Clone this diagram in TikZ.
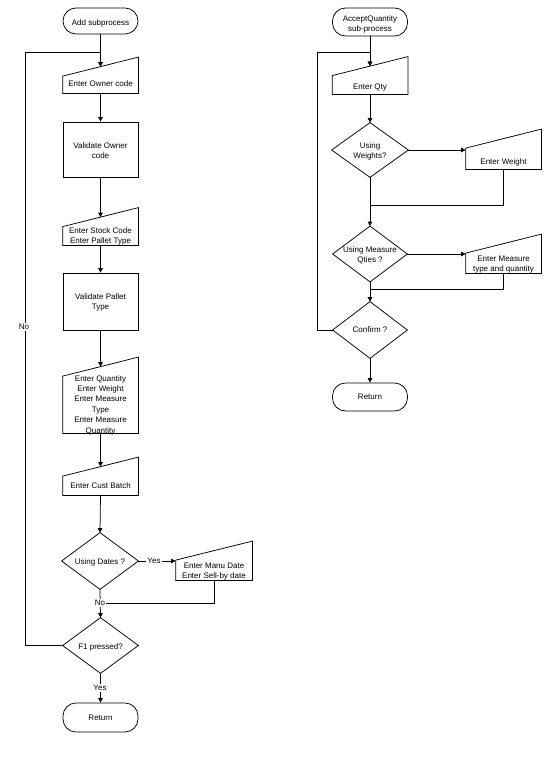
\documentclass[tikz,border=0pt]{standalone}
\usepackage{fontspec}
\setmainfont{Liberation Sans}
\usetikzlibrary{arrows.meta,calc}
\newcommand\mandraw[1]{\draw ([yshift=-9.5pt]#1.north west) -- ([yshift=9.5pt]#1.north east) -- (#1.south east) -- (#1.south west) -- cycle;}
\newcommand\diadraw[1]{\draw (#1.north) -- (#1.east) -- (#1.south) -- (#1.west) -- cycle;}
\newcommand\lowtext[2][3pt]{\raisebox{-#1}[\height][\depth]{\begin{tabular}{@{}c@{}}#2\end{tabular}}}
\begin{document}
\begin{tikzpicture}[x=1pt,y=-1pt, line width=0.75pt,
 base/.style={font=\fontsize{8}{10.4}\selectfont, align=center, inner sep=0pt},
 term/.style={base, draw, rounded corners=13pt, minimum width=75pt},
 proc/.style={base, draw, minimum width=75pt},
 shapebox/.style={base, minimum width=75pt},
 arr/.style={-{Triangle[length=4.5pt,width=4.5pt]}},
 lbl/.style={base, fill=white, inner sep=1pt}]
\useasboundingbox (0,0) rectangle (553,776);

% ---- left column ----
\node[term, minimum height=26pt] (add) at (100.5,21) {\lowtext[2pt]{Add subprocess}};
\node[shapebox, minimum height=26pt] (own) at (100.5,80) {\lowtext[4pt]{Enter Owner code}};
\node[proc, minimum height=55pt] (vown) at (100.5,149.5) {\lowtext[2pt]{Validate Owner\\code}};
\node[shapebox, minimum height=27.5pt] (stk) at (100.5,231.25) {\lowtext[5pt]{Enter Stock Code\\Enter Pallet Type}};
\node[proc, minimum height=57pt] (vpal) at (100.5,301.5) {\lowtext[1pt]{Validate Pallet\\Type}};
\node[shapebox, minimum height=66pt] (eqty) at (100.5,400) {\lowtext[5pt]{Enter Quantity\\Enter Weight\\Enter Measure\\Type\\Enter Measure\\Quantity}};
\node[shapebox, minimum height=28pt] (cust) at (100.5,481) {\lowtext[5pt]{Enter Cust Batch}};
\node[shapebox, minimum width=76pt, minimum height=56pt] (dates) at (100,561) {\lowtext[1pt]{Using Dates ?}};
\node[shapebox, minimum width=76pt, minimum height=29pt] (manu) at (214,565.5) {\lowtext[6pt]{Enter Manu Date\\Enter Sell-by date}};
\coordinate (j3) at (100,603);
\node[shapebox, minimum height=55pt] (f1) at (100.5,645.5) {\lowtext[2pt]{F1 pressed?}};
\node[term, minimum height=29pt] (ret1) at (100.5,717.5) {Return};
\coordinate (topL) at (25,52);

\mandraw{own}
\mandraw{stk}
\mandraw{eqty}
\mandraw{cust}
\mandraw{manu}
\diadraw{dates}
\diadraw{f1}

\draw[arr] (add.south) -- (own.north);
\draw[arr] (f1.west) -| (topL) -- (own.north |- topL) -- (own.north);
\draw[arr] (own.south) -- (vown.north);
\draw[arr] (vown.south) -- (stk.north);
\draw[arr] (stk.south) -- (vpal.north);
\draw[arr] (vpal.south) -- (eqty.north);
\draw[arr] (eqty.south) -- (cust.north);
\draw[arr] (cust.south) -- (dates.north);
\draw[arr] (dates.east) -- (dates.east -| manu.west);
\draw (manu.south) |- (j3);
\draw[arr] (dates.south) -- (f1.north);
\draw[arr] (f1.south) -- (ret1.north);

\node[lbl] (nol) at (24,327) {No};
\node[lbl] (yes1) at (154,561) {Yes};
\node[lbl] (no2) at (100,603) {No};
\node[lbl] (yes2) at (100,688) {Yes};

% ---- right column ----
\node[term, minimum height=28pt] (acc) at (370,22) {\lowtext[2.5pt]{AcceptQuantity\\sub-process}};
\node[shapebox, minimum height=27.5pt] (rq) at (370,80.25) {\lowtext[7pt]{Enter Qty}};
\node[shapebox, minimum width=76pt, minimum height=54pt] (wd) at (370,150) {\lowtext[1.5pt]{Using\\Weights?}};
\node[shapebox, minimum height=30pt] (wt) at (503.5,154) {\lowtext[8pt]{Enter Weight}};
\coordinate (j1) at (370,205);
\node[shapebox, minimum width=74pt, minimum height=55pt] (md) at (370,254) {\lowtext[1.5pt]{Using Measure\\Qties ?}};
\node[shapebox, minimum height=29pt] (meas) at (503.5,258.5) {\lowtext[6pt]{Enter Measure\\type and quantity}};
\coordinate (j2) at (370,289);
\node[shapebox, minimum width=74pt, minimum height=56pt] (conf) at (370,330) {Confirm ?};
\node[term, minimum height=28pt] (ret2) at (370,397) {Return};
\coordinate (topR) at (317,52);

\mandraw{rq}
\mandraw{wt}
\mandraw{meas}
\diadraw{wd}
\diadraw{md}
\diadraw{conf}

\draw[arr] (acc.south) -- (rq.north);
\draw[arr] (conf.west) -| (topR) -- (rq.north |- topR) -- (rq.north);
\draw[arr] (rq.south) -- (wd.north);
\draw[arr] (wd.east) -- (wd.east -| wt.west);
\draw (wt.south) |- (j1);
\draw[arr] (wd.south) -- (md.north);
\draw[arr] (md.east) -- (md.east -| meas.west);
\draw (meas.south) |- (j2);
\draw[arr] (md.south) -- (conf.north);
\draw[arr] (conf.south) -- (ret2.north);
\end{tikzpicture}
\end{document}
